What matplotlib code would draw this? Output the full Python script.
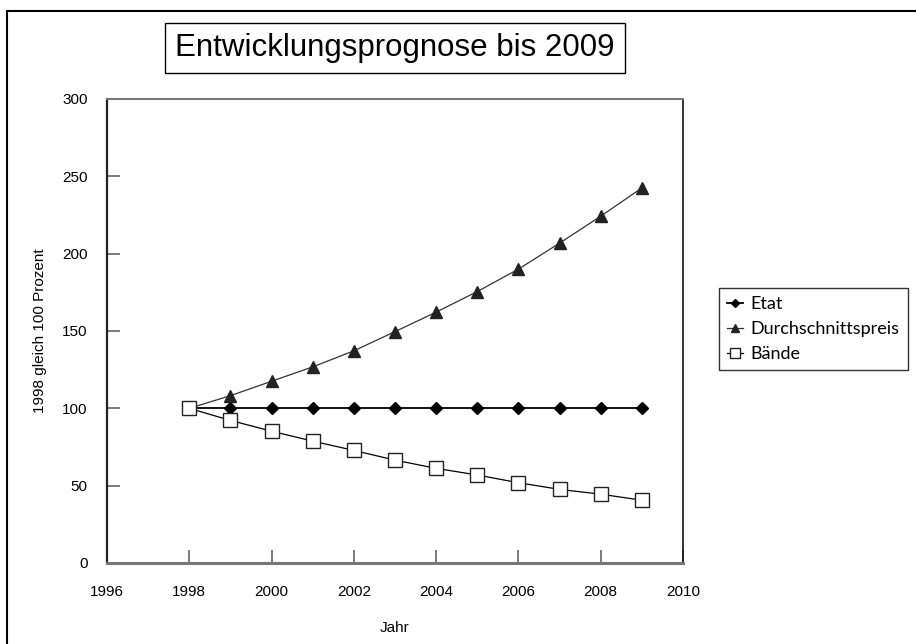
# Entwicklungsprognose bis 2009 - Etat, Durchschnittspreis, Bände

import matplotlib.pyplot as plt
from matplotlib.patches import Rectangle

# dati
jahre = [1998, 1999, 2000, 2001, 2002, 2003, 2004, 2005, 2006, 2007, 2008, 2009]
etat = [100, 100, 100, 100, 100, 100, 100, 100, 100, 100, 100, 100]
preis = [100, 108.2, 117.5, 126.8, 137.2, 149.6, 162.2, 175.5, 190.0, 206.8, 224.2, 242.5]
baende = [100, 92.2, 85.2, 78.8, 72.8, 66.5, 61.2, 56.9, 51.9, 47.6, 44.5, 40.6]

x_ticks = [1996, 1998, 2000, 2002, 2004, 2006, 2008, 2010]
y_ticks = [0, 50, 100, 150, 200, 250, 300]

plt.rcParams['font.family'] = ['Liberation Sans', 'DejaVu Sans']

fig = plt.figure(figsize=(9.16, 6.44), dpi=100)

# bordo esterno (solo lato sinistro e superiore visibili)
fig.patches.append(Rectangle((7 / 916, -0.1), 1.2, 1 - 11 / 644 + 0.1,
                             transform=fig.transFigure, fill=False,
                             edgecolor='black', linewidth=1.5))

ax = fig.add_axes([107 / 916, 1 - 563 / 644, 576 / 916, 464 / 644])

ax.plot(jahre, etat, color='black', linewidth=1.3, marker='D', markersize=6,
        markerfacecolor='black', label='Etat', zorder=3)
ax.plot(jahre, preis, color='#333333', linewidth=0.9, marker='^', markersize=9,
        markerfacecolor='#222222', markeredgecolor='#222222',
        label='Durchschnittspreis', zorder=3)
ax.plot(jahre, baende, color='black', linewidth=0.9, marker='s', markersize=10,
        markerfacecolor='white', markeredgecolor='#222222', markeredgewidth=1.0,
        label='Bände', zorder=3)

ax.set_xlim(1996, 2010)
ax.set_ylim(0, 300)
ax.set_xticks(x_ticks)
ax.set_yticks(y_ticks)
ax.tick_params(direction='in', length=9.5, width=1.2, color='#666666',
               labelsize=11, pad=14)
ax.tick_params(axis='x', pad=16)

ax.spines['left'].set_color('#222222')
ax.spines['left'].set_linewidth(1.6)
ax.spines['right'].set_color('#111111')
ax.spines['right'].set_linewidth(1.2)
ax.spines['bottom'].set_color('#777777')
ax.spines['bottom'].set_linewidth(2.2)
ax.spines['top'].set_color('#777777')
ax.spines['top'].set_linewidth(1.5)

ax.set_ylabel('1998 gleich 100 Prozent', fontsize=11)
ax.set_xlabel('Jahr', fontsize=11)
ax.yaxis.set_label_coords(-60 / 576, 0.5)
ax.xaxis.set_label_coords(0.5, -(621 - 563) / 464)

# titolo in un riquadro
fig.text(395 / 916, 1 - 48 / 644, 'Entwicklungsprognose bis 2009', fontsize=22.5,
         ha='center', va='center',
         bbox=dict(boxstyle='square,pad=0.33', facecolor='white',
                   edgecolor='black', linewidth=1.0))

leg = ax.legend(loc='upper left', bbox_to_anchor=(719 / 916, 1 - 288 / 644),
                bbox_transform=fig.transFigure, frameon=True, fancybox=False,
                edgecolor='black', prop={'family': 'Lato', 'size': 13},
                handlelength=0.9, handletextpad=0.4, borderpad=0.45,
                labelspacing=0.5, markerscale=0.7, borderaxespad=0)
leg.get_frame().set_linewidth(1.0)

fig.savefig('out.png', dpi=100)
